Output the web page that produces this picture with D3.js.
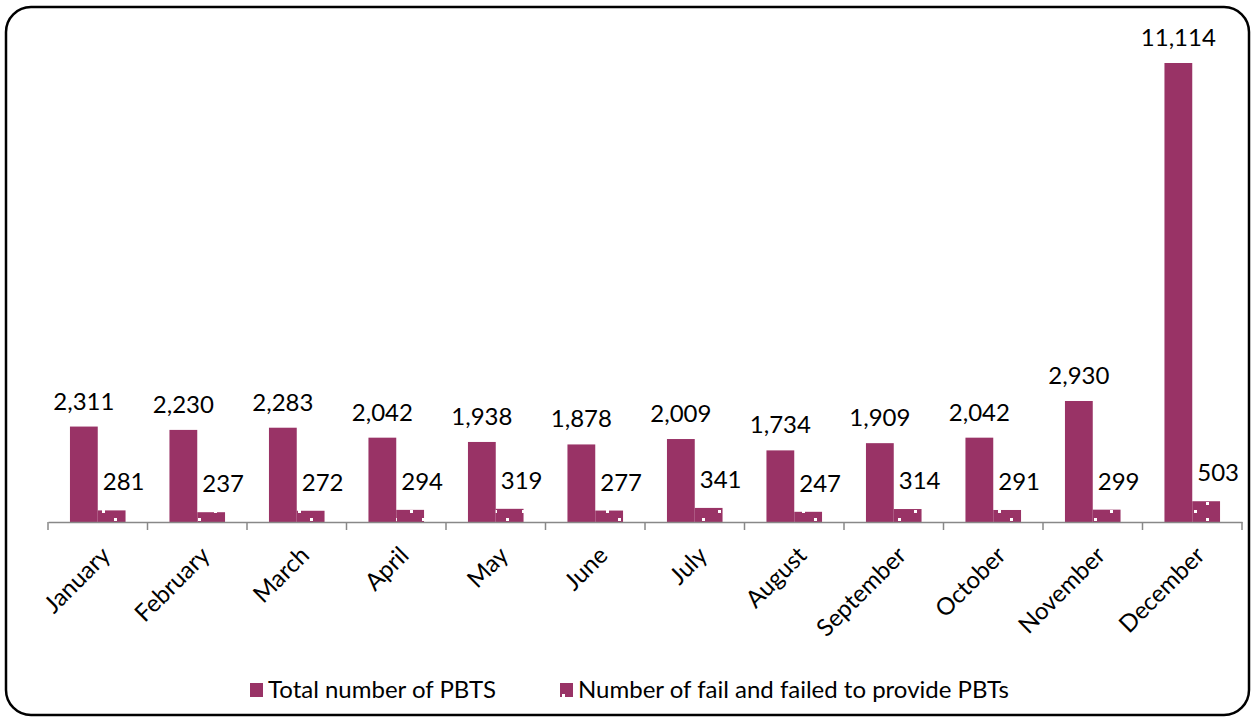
<!DOCTYPE html>
<html><head><meta charset="utf-8">
<script src="https://cdn.jsdelivr.net/npm/d3@7"></script>
<style>body{margin:0;background:#fff}svg{display:block}text{font-family:Lato,"Open Sans",sans-serif}</style>
</head><body><svg id="c" width="1255" height="722"></svg>
<script>
const months = ["January","February","March","April","May","June","July","August","September","October","November","December"];
const totalPBTS = [2311,2230,2283,2042,1938,1878,2009,1734,1909,2042,2930,11114];
const failedPBTs = [281,237,272,294,319,277,341,247,314,291,299,503];
const seriesNames = ["Total number of PBTS","Number of fail and failed to provide PBTs"];

const svg = d3.select("#c");
const color = "#993366";
const defs = svg.append("defs");
const pat = defs.append("pattern").attr("id","dots").attr("patternUnits","userSpaceOnUse")
  .attr("width",28).attr("height",16).attr("x",0).attr("y",2);
pat.append("rect").attr("width",28).attr("height",16).attr("fill",color);
pat.append("rect").attr("x",2).attr("y",4).attr("width",3).attr("height",3).attr("fill","#fff");
pat.append("rect").attr("x",18).attr("y",12).attr("width",3).attr("height",3).attr("fill","#fff");

svg.append("rect").attr("x",6).attr("y",7).attr("width",1243).attr("height",708)
  .attr("rx",25).attr("ry",25).attr("fill","#fff").attr("stroke","#000").attr("stroke-width",2.5);

const x0 = d3.scaleBand().domain(months).range([48,1242]).paddingInner(0).paddingOuter(0);
const x1 = d3.scaleBand().domain([0,1]).range([0,x0.bandwidth()]).paddingOuter(0.79).paddingInner(0);
const y = d3.scaleLinear().domain([0,11114]).range([522,63]);

const g = svg.append("g");
months.forEach((m,i)=>{
  const vals=[totalPBTS[i],failedPBTs[i]];
  vals.forEach((v,k)=>{
    g.append("rect").attr("x",x0(m)+x1(k)).attr("y",y(v)).attr("width",x1.bandwidth()).attr("height",y(0)-y(v))
      .attr("fill",k===0?color:"url(#dots)");
    g.append("text").attr("x",x0(m)+x1(k)+x1.bandwidth()/2+(k===1?12:0)).attr("y",y(v)-(k===0?17:20))
      .attr("text-anchor","middle").attr("font-size",24).attr("fill","#000").text(d3.format(",")(v));
  });
});

const ax = svg.append("g").attr("transform","translate(0,522)")
  .call(d3.axisBottom(x0).tickSize(0).tickFormat(""));
ax.select(".domain").attr("stroke","#888").attr("stroke-width",1.5);
const bounds = months.map(m=>x0(m)).concat([x0.range()[1]]);
svg.append("g").selectAll("line").data(bounds).join("line")
  .attr("x1",d=>d).attr("x2",d=>d).attr("y1",522).attr("y2",530).attr("stroke","#888").attr("stroke-width",1.5);

svg.append("g").selectAll("text").data(months).join("text")
  .attr("transform",d=>`translate(${x0(d)+x0.bandwidth()/2+2},${545}) rotate(-45)`)
  .attr("text-anchor","end").attr("dy","0.7em").attr("font-size",24).text(d=>d);

const leg=[{x:250,t:seriesNames[0],f:color},{x:560,t:seriesNames[1],f:"url(#dots)"}];
leg.forEach(l=>{
  svg.append("rect").attr("x",l.x).attr("y",683).attr("width",13).attr("height",14).attr("fill",l.f);
  svg.append("text").attr("x",l.x+18).attr("y",698).attr("font-size",24).text(l.t);
});
</script></body></html>
